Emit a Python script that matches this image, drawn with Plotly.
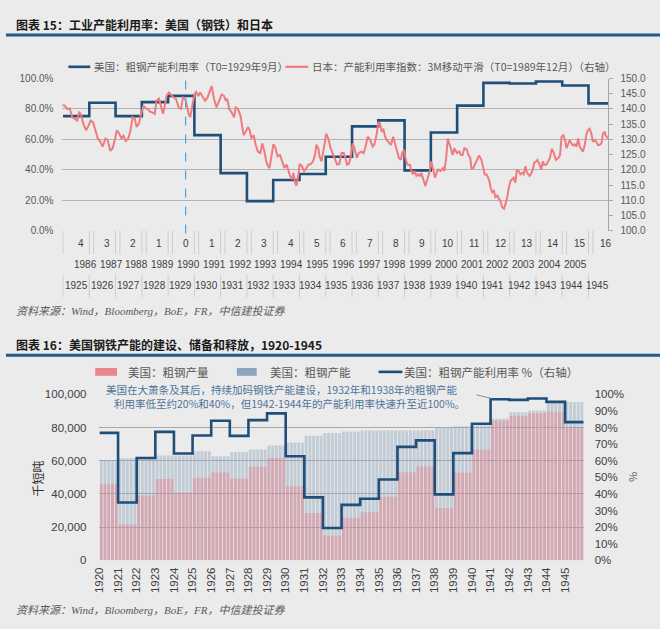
import plotly.graph_objects as go

W, H = 660, 629
def PX(x): return x / W
def PY(y): return 1 - y / H

BG = "#ebebeb"
NAVY = "#1f4e79"
SALMON = "#ef7b7e"
CJK = "Noto Sans CJK SC"
NUMF = "Liberation Sans, Arial"
ARIAL = "Liberation Sans, Arial"

# ---------------- Chart 15 data ----------------
US_YEARS_15 = list(range(1925, 1946))
US_UTIL_15 = [75.3, 84.1, 75.3, 84.5, 88.6, 62.8, 37.8, 19.4, 33.3, 37.2, 48.6,
              68.6, 72.5, 39.6, 64.5, 82.2, 97.2, 96.8, 98.1, 95.5, 83.7]
US_T0 = 1929 + 8 / 12          # T0 = 1929-09 (US); Japan T0 = 1989-12 aligned here

# Japan capacity utilisation index (3M MA), months relative to T0 (1989-12)
JP_MONTHS = [
    -56.4, -55.2, -54.0, -52.9, -51.8, -50.6, -49.5, -48.6, -47.7, -46.5,
    -45.4, -44.3, -43.4, -42.3, -41.3, -40.1, -38.9, -37.9, -36.6, -35.6,
    -34.4, -33.3, -32.2, -31.4, -30.3, -29.3, -28.4, -27.3, -26.2, -25.3,
    -24.2, -23.2, -22.4, -21.3, -20.5, -19.3, -18.2, -17.2, -16.3, -15.2,
    -14.1, -13.3, -12.2, -11.2, -10.3, -9.7, -8.7, -7.7, -6.6, -5.4,
    -4.3, -3.2, -2.1, -1.2, -0.1, 0.6, 1.4, 2.1, 2.9, 4.0,
    4.8, 5.8, 6.6, 7.8, 8.9, 10.0, 10.9, 11.9, 13.0, 14.1,
    15.3, 16.4, 17.5, 18.4, 19.0, 19.9, 21.0, 22.1, 22.9, 23.9,
    25.0, 25.9, 26.5, 27.4, 28.5, 29.3, 30.0, 31.1, 31.9, 33.0,
    34.1, 35.0, 36.0, 36.8, 37.6, 38.3, 39.1, 40.1, 41.0, 42.0,
    43.1, 44.0, 45.1, 46.1, 47.1, 47.7, 48.6, 49.2, 50.0, 50.6,
    51.5, 52.1, 53.1, 54.1, 55.2, 56.1, 57.2, 58.2, 59.1, 59.7,
    60.6, 61.2, 62.1, 62.7, 63.6, 64.2, 65.2, 66.2, 67.0,
    68.1, 69.2, 70.2, 71.2, 72.2, 73.0, 73.7, 74.5, 75.3, 76.3,
    77.1, 78.2, 79.0, 80.2, 81.3, 82.0, 83.2, 84.3, 85.4, 86.2,
    87.3, 88.0, 88.8, 89.5, 90.3, 91.1, 91.8, 92.9, 93.8, 94.8,
    95.5, 96.3, 97.4, 98.3, 98.9, 99.8, 100.4, 101.3, 102.4, 103.2,
    103.8, 104.6, 105.4, 106.1, 106.9, 107.6, 108.9, 109.5, 110.4, 111.5,
    112.2, 112.9, 113.9, 114.9, 115.5, 116.4, 117.5, 118.2, 119.0, 119.7,
    120.5, 121.3, 121.9, 122.7, 123.9, 125.0, 125.7, 126.5, 127.3, 128.5,
    129.1, 130.0, 130.5, 131.4, 132.5, 133.3, 134.0, 135.1, 136.0, 136.6,
    137.5, 138.6, 139.3, 140.0, 140.8, 141.5, 142.3, 143.1, 143.8, 144.6,
    145.4, 146.1, 146.9, 147.6, 148.4, 149.1, 149.8, 150.6, 151.3, 152.1,
    152.9, 153.6, 154.4, 155.2, 155.9, 157.1, 157.6, 158.6, 159.2, 160.1,
    160.7, 161.6, 162.4, 163.1, 163.7, 164.7, 165.7, 166.4, 167.2, 167.9,
    169.1, 170.2, 171.0, 171.7, 172.5, 173.3, 174.0, 174.8, 175.4, 176.2,
    177.0, 177.7, 178.5, 179.3, 180.0, 180.8, 181.5, 182.3, 183.1, 183.8,
    184.5, 185.3, 186.0, 186.8, 187.6, 188.3, 189.1, 189.9, 190.6, 191.4,
    191.8, 192.9,
]
JP_INDEX = [
    141.3, 141.1, 140.0, 140.2, 137.3, 136.8, 136.2, 139.1, 137.9, 134.6,
    133.0, 134.6, 136.2, 135.7, 133.5, 130.3, 129.2, 127.6, 130.3, 129.8,
    126.2, 127.1, 130.3, 133.0, 131.9, 130.3, 131.2, 129.5, 130.3, 132.5,
    137.3, 136.8, 134.1, 135.2, 137.9, 141.1, 140.2, 140.0, 139.1, 138.9,
    138.4, 142.7, 143.4, 141.1, 138.4, 140.5, 144.3, 145.4, 144.5, 143.8,
    143.2, 140.5, 140.0, 143.8, 143.2, 140.5, 138.4, 137.3, 140.0, 144.8,
    145.6, 144.3, 145.4, 144.1, 142.7, 143.8, 145.4, 147.5, 143.2, 140.5,
    142.7, 144.8, 144.3, 142.7, 143.4, 140.0, 138.9, 137.3, 140.5, 140.0,
    137.9, 134.6, 131.4, 132.5, 134.1, 133.0, 130.3, 131.4, 128.4, 126.0,
    125.5, 128.7, 126.0, 122.8, 121.2, 120.6, 124.4, 128.4, 127.3, 124.4,
    124.9, 122.8, 120.6, 121.7, 119.6, 118.0, 116.9, 119.0, 115.8, 114.7,
    118.5, 121.9, 121.2, 119.6, 120.6, 121.7, 121.9, 122.8, 124.9, 128.2,
    127.1, 124.4, 122.8, 124.9, 129.2, 131.9, 130.3, 127.1, 125.5,
    123.9, 121.7, 121.9, 125.5, 125.5, 123.9, 121.7, 121.9, 123.9, 128.7,
    127.1, 123.9, 125.5, 126.0, 125.5, 127.1, 130.9, 129.8, 127.6, 128.2,
    131.9, 135.7, 135.2, 132.5, 133.5, 130.9, 129.8, 128.7, 128.2, 130.9,
    129.2, 127.1, 123.9, 123.3, 125.5, 126.6, 123.9, 121.7, 121.7, 119.6,
    118.5, 119.6, 118.0, 118.5, 118.0, 119.0, 115.8, 114.7, 116.9, 119.6,
    122.8, 120.6, 117.4, 119.6, 120.1, 119.6, 120.6, 119.6, 123.9, 130.3,
    128.7, 126.6, 124.9, 127.1, 125.5, 126.0, 124.9, 124.9, 127.1, 126.6,
    124.9, 123.9, 120.6, 120.6, 122.3, 123.9, 124.7, 123.3, 119.6, 118.5,
    118.5, 116.6, 114.2, 112.6, 113.1, 111.0, 111.5, 110.4, 109.7, 107.7,
    107.2, 108.8, 111.0, 114.2, 116.3, 116.9, 117.4, 115.8, 120.1, 119.6,
    118.5, 119.0, 118.5, 121.2, 119.0, 118.0, 118.5, 120.1, 122.3, 122.8,
    123.3, 121.7, 120.1, 122.8, 121.7, 121.7, 122.8, 123.9, 126.9, 126.0,
    123.3, 123.9, 124.9, 130.9, 131.4, 129.8, 127.1, 128.7, 129.8, 128.7,
    128.0, 128.4, 127.6, 130.3, 127.6, 126.6, 126.0, 128.2, 131.9, 133.0,
    133.5, 131.9, 129.2, 129.8, 129.2, 128.2, 128.2, 128.7, 131.9, 132.5,
    131.4, 130.3,
]
if len(JP_MONTHS) != len(JP_INDEX):
    raise ValueError(f"length mismatch {len(JP_MONTHS)} vs {len(JP_INDEX)}")

ROW1_OFFSETS = list(range(-4, 17))          # years relative to T0
ROW2_JP_YEARS = list(range(1986, 2006))
ROW3_US_YEARS = list(range(1925, 1946))

# ---------------- Chart 16 data ----------------
YEARS = list(range(1920, 1946))
PROD = [45800, 21600, 39100, 49000, 40900, 49700, 52900, 49200, 56400, 61700,
        44600, 28500, 14700, 25600, 28900, 38300, 53100, 56600, 31500, 52700,
        66600, 84300, 87000, 88800, 89600, 80000]
CAP = [60400, 61500, 61300, 63100, 63100, 65700, 62700, 65300, 66800, 69200,
       71000, 75100, 76700, 77700, 78200, 78400, 78400, 78400, 79800, 80800,
       81200, 85300, 89200, 90300, 95100, 95500]
UTIL = [76.8, 34.8, 61.7, 77.4, 64.4, 75.2, 84.1, 75.0, 84.5, 88.6,
        62.7, 37.9, 19.4, 33.4, 37.1, 48.7, 68.4, 72.3, 39.7, 64.6,
        82.3, 97.1, 96.7, 97.6, 95.5, 83.3]

fig = go.Figure()

# ---- chart 15 traces ----
fig.add_trace(go.Scatter(
    x=US_YEARS_15 + [US_YEARS_15[-1] + 1], y=US_UTIL_15 + [US_UTIL_15[-1]],
    mode="lines", line=dict(color=NAVY, width=2.6, shape="hv"),
    xaxis="x", yaxis="y", showlegend=False, hoverinfo="skip"))
fig.add_trace(go.Scatter(
    x=[US_T0 + m / 12 for m in JP_MONTHS], y=JP_INDEX,
    mode="lines", line=dict(color=SALMON, width=2),
    xaxis="x", yaxis="y2", showlegend=False, hoverinfo="skip"))

# ---- chart 16 traces ----
SUB = 5
bx = [y + (j + 0.5) / SUB for y in YEARS for j in range(SUB)]
fig.add_trace(go.Bar(
    x=bx, y=[c for c in CAP for _ in range(SUB)], width=0.78 / SUB,
    marker=dict(color="rgba(142,166,190,0.45)", line_width=0),
    xaxis="x2", yaxis="y3", showlegend=False, hoverinfo="skip"))
fig.add_trace(go.Bar(
    x=bx, y=[p for p in PROD for _ in range(SUB)], width=0.78 / SUB,
    marker=dict(color="rgba(232,132,142,0.5)", line_width=0),
    xaxis="x2", yaxis="y3", showlegend=False, hoverinfo="skip"))
fig.add_trace(go.Scatter(
    x=YEARS + [YEARS[-1] + 1], y=UTIL + [UTIL[-1]],
    mode="lines", line=dict(color=NAVY, width=2.6, shape="hv"),
    xaxis="x2", yaxis="y4", showlegend=False, hoverinfo="skip"))

top_tick = dict(family=NUMF, size=10, color="#595959")
bot_tick = dict(family=ARIAL, size=11.5, color="#404040")

fig.update_layout(
    width=W, height=H, margin=dict(l=0, r=0, t=0, b=0),
    paper_bgcolor=BG, plot_bgcolor="rgba(0,0,0,0)",
    barmode="overlay", showlegend=False,
    xaxis=dict(domain=[PX(57), PX(608)], range=[1924.98, 1945.76], anchor="y",
               showticklabels=False, showgrid=False, zeroline=False, showline=False),
    yaxis=dict(domain=[PY(229), PY(74)], range=[0, 100], dtick=20, anchor="x",
               tickformat=".1f", ticksuffix="%", gridcolor="#b3b3b3", gridwidth=1,
               zeroline=False, showline=False, tickfont=top_tick, ticklabelstandoff=8),
    yaxis2=dict(overlaying="y", side="right", anchor="x", range=[100, 150], dtick=5,
                tickformat=".1f", showgrid=False, zeroline=False, showline=True,
                linecolor="#a6a6a6", linewidth=1, ticks="outside", ticklen=4,
                tickcolor="#a6a6a6", tickfont=top_tick, ticklabelstandoff=5),
    xaxis2=dict(domain=[PX(94.3), PX(583)], range=[1920, 1946], anchor="y3",
                tickmode="array", tickvals=YEARS, ticktext=[str(y) for y in YEARS],
                tickangle=-90, showgrid=False, zeroline=False, showline=False,
                tickfont=bot_tick, ticklabelstandoff=4),
    yaxis3=dict(domain=[PY(565), PY(396)], range=[0, 100000], dtick=20000, anchor="x2",
                tickformat=",d", gridcolor="#a9a9a9", gridwidth=1, zeroline=False,
                showline=False, tickfont=bot_tick, ticklabelstandoff=12),
    yaxis4=dict(overlaying="y3", side="right", anchor="x2", range=[0, 100], dtick=10,
                ticksuffix="%", showgrid=False, zeroline=False, showline=False,
                tickfont=bot_tick, ticklabelstandoff=10),
)

ann = []
shapes = []

def text(x, y, s, size=11, color="#595959", family=CJK, xanchor="left", angle=0):
    ann.append(dict(x=PX(x), y=PY(y), xref="paper", yref="paper", text=s,
                    showarrow=False, xanchor=xanchor, yanchor="middle", textangle=angle,
                    font=dict(family=family, size=size, color=color)))

def pline(x0, y0, x1, y1, color, width=1, dash="solid"):
    shapes.append(dict(type="line", xref="paper", yref="paper", x0=PX(x0), y0=PY(y0),
                       x1=PX(x1), y1=PY(y1), line=dict(color=color, width=width, dash=dash)))

# ---- chart 15 furniture ----
text(8, 19, "<b>图表 15：工业产能利用率：美国（钢铁）和日本</b>", size=12, color="#1a1a1a")
shapes.append(dict(type="rect", xref="paper", yref="paper", x0=0, x1=1, y0=PY(31), y1=PY(28),
                   fillcolor="#245a8a", line_width=0))
pline(63, 62, 85, 62, NAVY, 2.6)
text(87, 62, "美国：粗钢产能利用率（T0=1929年9月）", size=10.5)
pline(282, 62, 305, 62, SALMON, 2.2)
text(307, 62, "日本：产能利用率指数：3M移动平滑（T0=1989年12月）（右轴）", size=10.5)

# T0 dashed marker
shapes.append(dict(type="line", xref="x", yref="paper", x0=US_T0, x1=US_T0,
                   y0=PY(232), y1=PY(74), line=dict(color="#48a9dc", width=1.2, dash="dash")))

# multi-level category axis labels
lab_font = dict(family=NUMF, size=10, color="#404040")
for k in ROW1_OFFSETS:
    ann.append(dict(x=US_T0 + k, y=PY(242.5), xref="x", yref="paper", text=str(abs(k)),
                    showarrow=False, xanchor="center", yanchor="middle", font=lab_font))
n2 = len(ROW2_JP_YEARS)
for i, yr in enumerate(ROW2_JP_YEARS):
    xpos = 1925.85 + i * (1944.5 - 1925.85) / (n2 - 1)
    ann.append(dict(x=xpos, y=PY(264), xref="x", yref="paper", text=str(yr),
                    showarrow=False, xanchor="center", yanchor="middle", font=lab_font))
n3 = len(ROW3_US_YEARS)
for i, yr in enumerate(ROW3_US_YEARS):
    xpos = 1925.5 + i * (1945.33 - 1925.5) / (n3 - 1)
    ann.append(dict(x=xpos, y=PY(284.5), xref="x", yref="paper", text=str(yr),
                    showarrow=False, xanchor="center", yanchor="middle", font=lab_font))
# separators
for yr in ROW3_US_YEARS:
    for (a, b) in [(229, 253), (274, 297)]:
        shapes.append(dict(type="line", xref="x", yref="paper", x0=yr, x1=yr,
                           y0=PY(a), y1=PY(b), line=dict(color="#cdcdcd", width=1)))
for k in ROW1_OFFSETS[:-1]:
    xv = US_T0 + k + 0.5
    shapes.append(dict(type="line", xref="x", yref="paper", x0=xv, x1=xv,
                       y0=PY(229), y1=PY(253), line=dict(color="#cdcdcd", width=1)))

text(8, 311, "<i>资料来源：Wind，Bloomberg，BoE，FR，中信建投证券</i>", size=11,
     family="Liberation Serif, " + CJK)

# ---- chart 16 furniture ----
text(8, 345, "<b>图表 16：美国钢铁产能的建设、储备和释放，1920-1945</b>", size=12, color="#1a1a1a")
shapes.append(dict(type="rect", xref="paper", yref="paper", x0=0, x1=1, y0=PY(357.5), y1=PY(354.5),
                   fillcolor="#245a8a", line_width=0))
shapes.append(dict(type="rect", xref="paper", yref="paper", x0=PX(90), x1=PX(112),
                   y0=PY(377), y1=PY(369), fillcolor="#e8858d", line_width=0))
text(121, 373, "美国：粗钢产量", size=11.5)
shapes.append(dict(type="rect", xref="paper", yref="paper", x0=PX(233), x1=PX(253),
                   y0=PY(377), y1=PY(369), fillcolor="#8ea6bd", line_width=0))
text(264, 373, "美国：粗钢产能", size=11.5)
pline(376, 373, 400, 373, NAVY, 2.6)
text(400, 373, "美国：粗钢产能利用率 %（右轴）", size=11.5)

text(279, 390.5, "美国在大萧条及其后，持续加码钢铁产能建设，1932年和1938年的粗钢产能",
     size=10.5, color="#4f7399", xanchor="center")
text(286, 405.5, "利用率低至约20%和40%，但1942-1944年的产能利用率快速升至近100%。",
     size=10.5, color="#4f7399", xanchor="center")
pline(475, 396.5, 490, 400, "#8c8c8c", 1)

text(32, 482, "千短吨", size=12, color="#333333", angle=-90, xanchor="center")
text(632, 480, "%", size=11, color="#595959", angle=-90, xanchor="center")

text(8, 616, "<i>资料来源：Wind，Bloomberg，BoE，FR，中信建投证券</i>", size=11,
     family="Liberation Serif, " + CJK)

fig.update_layout(annotations=ann, shapes=shapes)
fig.write_html("out.html", config={"displayModeBar": False},
               post_script="document.body.style.margin='0';document.body.style.overflow='hidden';")
